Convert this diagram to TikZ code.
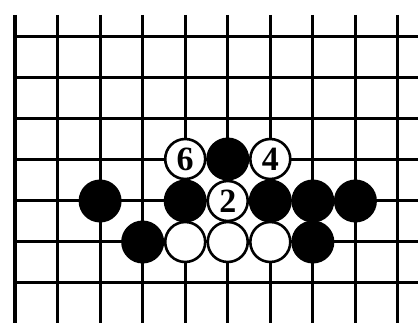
\documentclass[tikz,border=0pt]{standalone}
\usepackage{fontspec}
\setmainfont{Liberation Serif}
\begin{document}
\begin{tikzpicture}[x=1pt,y=-1pt,
  gridline/.style={line width=3pt},
  edgeline/.style={line width=4.5pt},
  bstone/.style={circle,fill=black,minimum size=43pt,inner sep=0pt},
  wstone/.style={circle,fill=white,draw=black,line width=2.6pt,minimum size=40pt,inner sep=0pt,font=\fontsize{34}{34}\selectfont\bfseries}]
\useasboundingbox (0,0) rectangle (418,323);
\fill[white] (0,0) rectangle (418,323);
\foreach \i in {1,...,9} \draw[gridline] ({15+42.55*\i},15) -- ({15+42.55*\i},323);
\foreach \j in {0,...,6} \draw[gridline] (15,{37+41*\j}) -- (418,{37+41*\j});
\draw[edgeline] (15,15) -- (15,323);
% row 3
\node[wstone] (w6) at (185.2,159) {6};
\node[bstone] (b53) at (227.75,159) {};
\node[wstone] (w4) at (270.3,159) {4};
% row 4
\node[bstone] (b24) at (100.1,201) {};
\node[bstone] (b44) at (185.2,201) {};
\node[wstone] (w2) at (227.75,201) {2};
\node[bstone] (b64) at (270.3,201) {};
\node[bstone] (b74) at (312.85,201) {};
\node[bstone] (b84) at (355.4,201) {};
% row 5
\node[bstone] (b35) at (142.65,242) {};
\node[wstone] (w45) at (185.2,242) {};
\node[wstone] (w55) at (227.75,242) {};
\node[wstone] (w65) at (270.3,242) {};
\node[bstone] (b75) at (312.85,242) {};
\end{tikzpicture}
\end{document}
